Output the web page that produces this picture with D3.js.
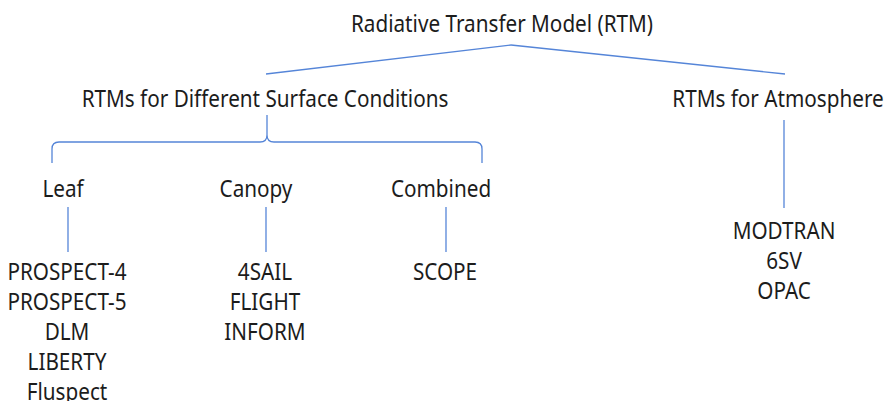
<!DOCTYPE html>
<html>
<head>
<meta charset="utf-8">
<script src="https://cdn.jsdelivr.net/npm/d3@7"></script>
<style>
  body { margin: 0; background: #fff; }
  text { font-family: "Noto Sans", "Open Sans", sans-serif; fill: #1c1c1c; }
</style>
</head>
<body>
<svg id="tree"></svg>
<script>
// chart content
const rootLabel = "Radiative Transfer Model (RTM)";
const branchLabels = ["RTMs for Different Surface Conditions", "RTMs for Atmosphere"];
const surfaceLabels = ["Leaf", "Canopy", "Combined"];
const leafModels = ["PROSPECT-4", "PROSPECT-5", "DLM", "LIBERTY", "Fluspect"];
const canopyModels = ["4SAIL", "FLIGHT", "INFORM"];
const combinedModels = ["SCOPE"];
const atmosphereModels = ["MODTRAN", "6SV", "OPAC"];

const W = 890, H = 401;
const lineColor = "#5585d8";
const fontSize = 23, squeeze = 0.9;

const svg = d3.select("#tree").attr("width", W).attr("height", H);

// layout
const rootPos = {x: 502, y: 32, apex: [511, 45]};
const branchX = [266, 785];
const branchJoinY = 74;
const branchTextX = [265, 778];
const surfaceTextX = [63, 256, 441];
const surfaceLineX = [68, 266, 446];
const atmoX = 784;

// row position of list entries (baseline)
const rowY = d3.scaleLinear().domain([0, 1]).range([280, 310]);
const atmoRowY = d3.scaleLinear().domain([0, 1]).range([239, 269]);

function label(g, txt, x, y) {
    g.append("text")
        .attr("transform", `translate(${x},${y}) scale(${squeeze},1)`)
        .attr("text-anchor", "middle")
        .attr("font-size", fontSize)
        .text(txt);
}

const lines = svg.append("g")
    .attr("fill", "none")
    .attr("stroke", lineColor)
    .attr("stroke-width", 1.3);

const texts = svg.append("g");

// root
label(texts, rootLabel, rootPos.x, rootPos.y);
lines.selectAll("line.branch")
    .data(branchX).enter()
    .append("line")
    .attr("class", "branch")
    .attr("x1", rootPos.apex[0]).attr("y1", rootPos.apex[1])
    .attr("x2", d => d).attr("y2", branchJoinY);

// second level
branchLabels.forEach((b, i) => label(texts, b, branchTextX[i], 107));

// curly bracket under surface conditions
const bx0 = surfaceLineX[0] - 16, bx1 = 482, bm = branchX[0] + 1;
const by = 142, bTop = 115, bBot = 163, r = 7;
const brace = d3.path();
brace.moveTo(bx0, bBot);
brace.lineTo(bx0, by + r);
brace.quadraticCurveTo(bx0, by, bx0 + r, by);
brace.lineTo(bm - r, by);
brace.quadraticCurveTo(bm, by, bm, by - r);
brace.lineTo(bm, bTop);
brace.moveTo(bx1, bBot);
brace.lineTo(bx1, by + r);
brace.quadraticCurveTo(bx1, by, bx1 - r, by);
brace.lineTo(bm + r, by);
brace.quadraticCurveTo(bm, by, bm, by - r);
lines.append("path").attr("d", brace.toString());

// third level
surfaceLabels.forEach((s, i) => label(texts, s, surfaceTextX[i], 197));
lines.selectAll("line.leafstem")
    .data(surfaceLineX).enter()
    .append("line")
    .attr("class", "leafstem")
    .attr("x1", d => d).attr("x2", d => d)
    .attr("y1", 207).attr("y2", 252);

// model lists
[leafModels, canopyModels, combinedModels].forEach((list, i) => {
    list.forEach((m, j) => label(texts, m, surfaceLineX[i] - 1, rowY(j)));
});

// atmosphere
lines.append("line")
    .attr("x1", atmoX).attr("x2", atmoX)
    .attr("y1", 120).attr("y2", 208);
atmosphereModels.forEach((m, j) => label(texts, m, atmoX, atmoRowY(j)));
</script>
</body>
</html>
